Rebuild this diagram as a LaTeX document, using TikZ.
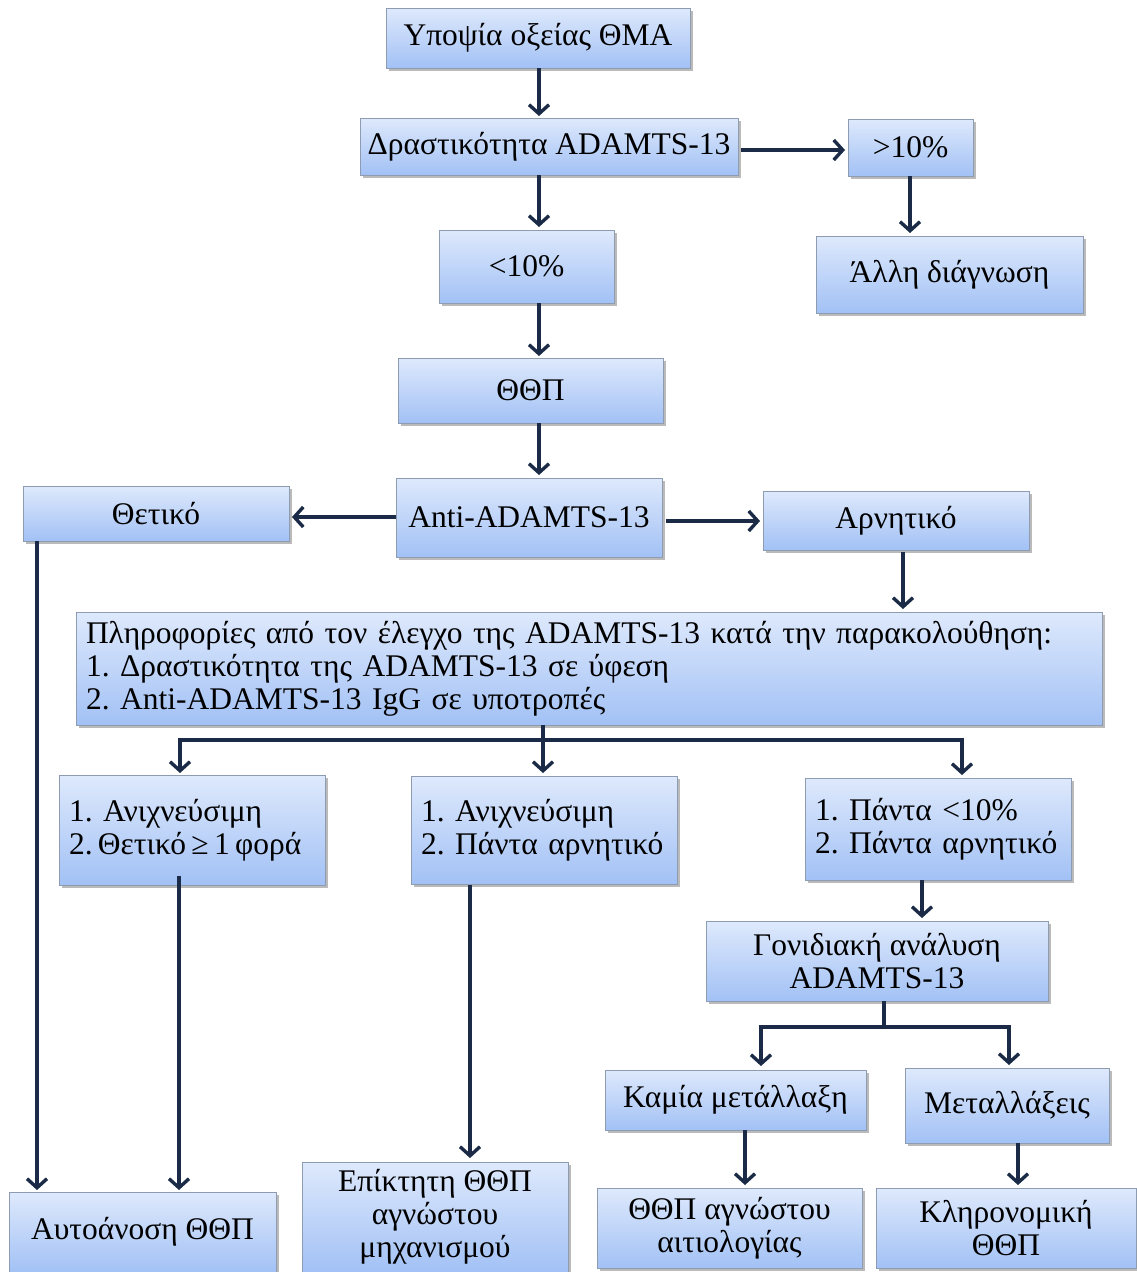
\documentclass[tikz,border=0pt]{standalone}
\usepackage{fontspec}
\setmainfont{Liberation Serif}
\usetikzlibrary{arrows.meta,shadows}
\definecolor{boxtop}{HTML}{DEE9FC}
\definecolor{boxbot}{HTML}{A2C1F5}
\definecolor{boxline}{HTML}{8E9CB2}
\definecolor{arrowcol}{HTML}{1B2B47}
\tikzset{
  box/.style={draw=boxline, line width=0.8pt, top color=boxtop, bottom color=boxbot,
    inner sep=0pt, align=center,
    drop shadow={shadow xshift=2.5pt, shadow yshift=-2.5pt, opacity=0.45, fill=black!60}},
  leftbox/.style={align=left},
  flow/.style={draw=arrowcol, line width=3.4pt, -{Straight Barb[length=9pt,width=20pt,line width=3.4pt]}},
  plain/.style={draw=arrowcol, line width=3.4pt}
}
% \mkbox[options]{name}{x1}{y1}{x2}{y2}{text}: box from its corners, y measured downwards
\newcommand{\mkbox}[7][]{%
  \node[box, minimum width={(#5-#3)*1pt}, minimum height={(#6-#4)*1pt}, #1]
    (#2) at ({(#3+#5)/2},{-(#4+#6)/2}) {#7};}
\begin{document}
\frenchspacing
\begin{tikzpicture}[x=1pt,y=1pt]
\fontsize{31.5}{33}\selectfont
\useasboundingbox (0,0) rectangle (1136,-1272);

\mkbox{suspect}{386}{8}{690}{68}{Υποψία οξείας ΘΜΑ}
\mkbox{activity}{360}{118}{738}{175}{Δραστικότητα ADAMTS-13}
\mkbox{above}{848}{119}{973}{176}{>10\%}
\mkbox{other}{816}{236}{1083}{313}{Άλλη διάγνωση}
\mkbox{below}{439}{230}{614}{303}{<10\%}
\mkbox{ttp}{398}{358}{663}{423}{ΘΘΠ}
\mkbox{anti}{396}{478}{662}{557}{Anti-ADAMTS-13}
\mkbox{pos}{23}{486}{289}{541}{Θετικό}
\mkbox{neg}{763}{491}{1029}{550}{Αρνητικό}
\mkbox[text width=1006pt, leftbox]{info}{76}{612}{1102}{725}{Πληροφορίες από τον έλεγχο της ADAMTS-13 κατά την παρακολούθηση:\\1. Δραστικότητα της ADAMTS-13 σε ύφεση\\2. Anti-ADAMTS-13 IgG σε υποτροπές}
\mkbox[text width=246pt, leftbox]{caseA}{59}{775}{325}{885}{1. Ανιχνεύσιμη\\\makebox[246pt][l]{\spaceskip=0.17em 2. Θετικό ≥ 1 φορά}}
\mkbox[text width=246pt, leftbox]{caseB}{411}{776}{677}{884}{1. Ανιχνεύσιμη\\2. Πάντα αρνητικό}
\mkbox[text width=246pt, leftbox]{caseC}{805}{778}{1071}{880}{1. Πάντα <10\%\\2. Πάντα αρνητικό}
\mkbox{gene}{706}{921}{1048}{1001}{Γονιδιακή ανάλυση\\ADAMTS-13}
\mkbox{nomut}{605}{1070}{866}{1130}{Καμία μετάλλαξη}
\mkbox{mut}{905}{1068}{1109}{1143}{Μεταλλάξεις}
\mkbox{unknown}{597}{1188}{862}{1268}{ΘΘΠ αγνώστου\\αιτιολογίας}
\mkbox{hered}{876}{1188}{1136}{1268}{Κληρονομική\\ΘΘΠ}
\mkbox{auto}{9}{1192}{276}{1272}{Αυτοάνοση ΘΘΠ}
\mkbox{acquired}{302}{1162}{568}{1272}{Επίκτητη ΘΘΠ\\αγνώστου\\μηχανισμού}

% main vertical chain
\draw[flow] (539,-68) -- (539,-116);
\draw[flow] (539,-175) -- (539,-227);
\draw[flow] (539,-303) -- (539,-356);
\draw[flow] (539,-423) -- (539,-475);
% side branches
\draw[flow] (activity.east |- 0,-150) ++(3,0) -- (845,-150);
\draw[flow] (910,-176) -- (910,-233);
\draw[flow] (anti.west |- 0,-517) -- (292,-517);
\draw[flow] (666,-521) -- (760,-521);
\draw[flow] (903,-552) -- (903,-609);
% fan-out below the information box
\coordinate (fan) at (543,-740);
\draw[plain] (543,-725) -- (fan);
\draw[plain] (178.3,-740) -- (963.7,-740);
\draw[flow] (180,-740) -- (180,-773);
\draw[flow] (543,-740) -- (543,-773);
\draw[flow] (962,-740) -- (962,-775);
% outcomes
\draw[flow] (37,-541) -- (37,-1190);
\draw[flow] (179,-876) -- (179,-1190);
\draw[flow] (470,-885) -- (470,-1158);
\draw[flow] (922,-880) -- (922,-918);
% genetic analysis branches
\draw[plain] (884,-1001) -- (884,-1027);
\draw[plain] (759.3,-1027) -- (1010.7,-1027);
\draw[flow] (761,-1027) -- (761,-1066);
\draw[flow] (1009,-1027) -- (1009,-1065);
\draw[flow] (745,-1130) -- (745,-1185);
\draw[flow] (1018,-1143) -- (1018,-1185);
\end{tikzpicture}
\end{document}
